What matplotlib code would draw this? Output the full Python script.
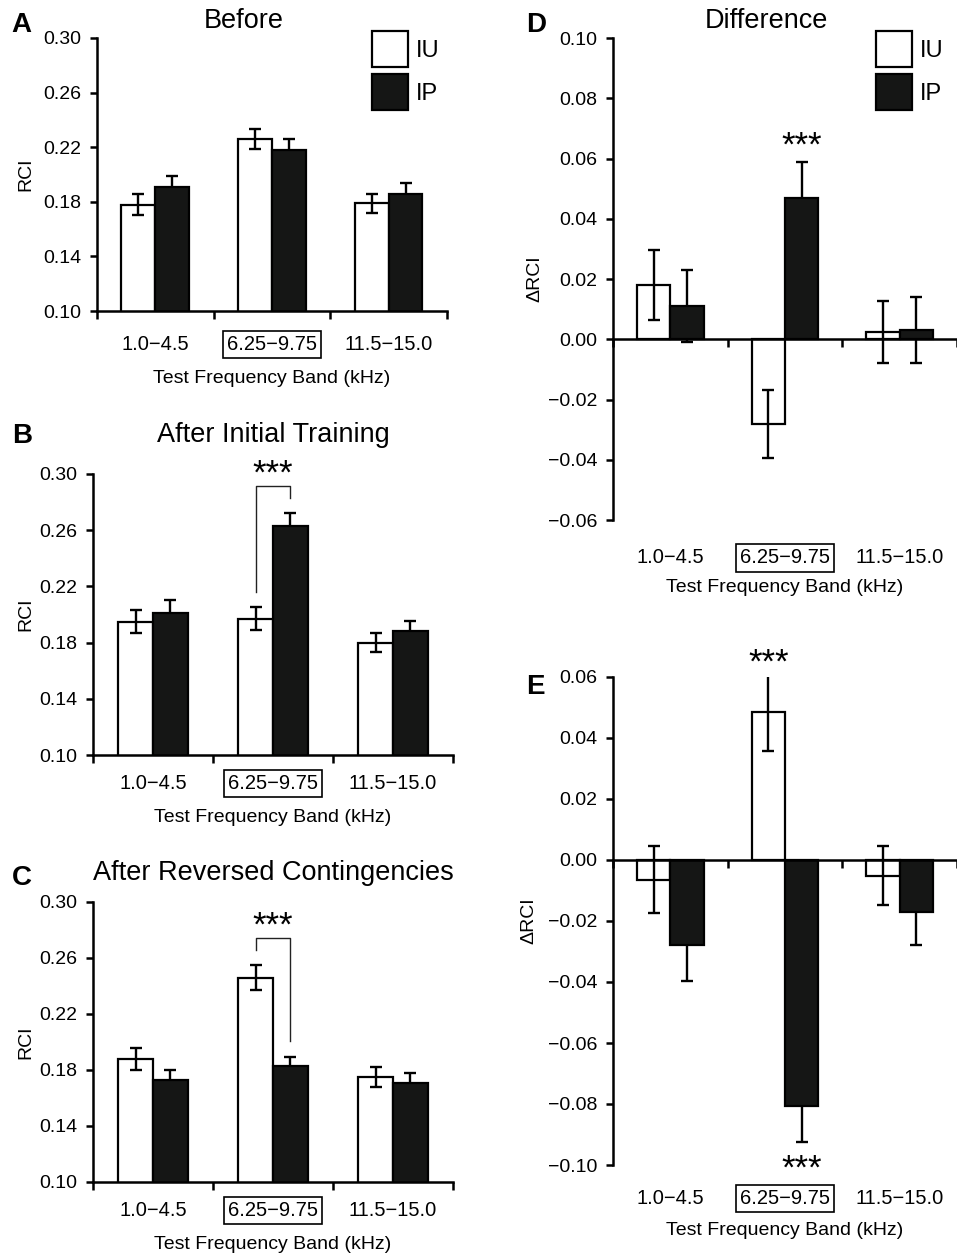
import matplotlib
matplotlib.use("Agg")
import matplotlib.pyplot as plt
from matplotlib.patches import Patch
from matplotlib.ticker import FuncFormatter
import numpy as np

plt.rcParams["font.family"] = ["Liberation Sans", "DejaVu Sans"]

# values (RCI, mean +/- sem)
bands = ["1.0\u22124.5", "6.25\u22129.75", "11.5\u221215.0"]

before_iu = [0.178, 0.226, 0.179]
before_iu_err = [0.008, 0.007, 0.007]
before_ip = [0.191, 0.218, 0.186]
before_ip_err = [0.008, 0.008, 0.0075]

initial_iu = [0.195, 0.197, 0.180]
initial_iu_err = [0.008, 0.008, 0.007]
initial_ip = [0.201, 0.263, 0.188]
initial_ip_err = [0.009, 0.009, 0.0075]

reversed_iu = [0.188, 0.246, 0.175]
reversed_iu_err = [0.008, 0.009, 0.007]
reversed_ip = [0.173, 0.183, 0.171]
reversed_ip_err = [0.007, 0.0065, 0.007]

diff_iu = [0.018, -0.028, 0.0025]
diff_iu_err = [0.0115, 0.0113, 0.0103]
diff_ip = [0.011, 0.047, 0.003]
diff_ip_err = [0.012, 0.012, 0.011]

revdiff_iu = [-0.0065, 0.0484, -0.0052]
revdiff_iu_err = [0.011, 0.0125, 0.0097]
revdiff_ip = [-0.028, -0.0806, -0.017]
revdiff_ip_err = [0.0118, 0.0117, 0.0108]

BLACK = "#151615"
W, H = 957, 1255
BW = 0.29
TICK_FS = 14
STAR_FS = 25

fig = plt.figure(figsize=(W / 100, H / 100), dpi=100)


def px_axes(left, right, top, bottom):
    return fig.add_axes([left / W, 1 - bottom / H, (right - left) / W, (bottom - top) / H])


def fmt(v, _):
    s = f"{v:.2f}"
    if s == "-0.00":
        s = "0.00"
    return s.replace("-", "\u2212")


def draw_bars(ax, iu, iu_err, ip, ip_err):
    x = np.arange(len(bands))
    ax.bar(x - BW / 2, iu, BW, color="white", edgecolor="black", linewidth=1.6, zorder=2)
    ax.errorbar(x - BW / 2, iu, yerr=iu_err, fmt="none", ecolor="black", elinewidth=1.7,
                capsize=4.5, capthick=1.7, zorder=3.5)
    # black bars sit on top of their own error bars so only the outer half shows
    ax.bar(x + BW / 2, ip, BW, color=BLACK, edgecolor="black", linewidth=1.6, zorder=3)
    ax.errorbar(x + BW / 2, ip, yerr=ip_err, fmt="none", ecolor="black", elinewidth=1.7,
                capsize=4.5, capthick=1.7, zorder=2.2)
    ax.set_xlim(-0.5, len(bands) - 0.5)


def style(ax, ylim, step, ylabel, label_x):
    ax.set_ylim(*ylim)
    ax.set_yticks(np.arange(ylim[0], ylim[1] + step / 2, step))
    ax.yaxis.set_major_formatter(FuncFormatter(fmt))
    for s in ["top", "right"]:
        ax.spines[s].set_visible(False)
    for s in ["left", "bottom"]:
        ax.spines[s].set_linewidth(1.8)
        ax.spines[s].set_zorder(4)
    ax.tick_params(axis="y", direction="out", length=5, width=1.8, labelsize=TICK_FS, pad=6)
    ax.set_xticks(np.arange(-0.5, len(bands)), minor=True)
    ax.tick_params(axis="x", which="minor", direction="out", length=6, width=1.8)
    ax.set_ylabel(ylabel, fontsize=14)
    ax.yaxis.set_label_coords(label_x, 0.5)


def band_labels(ax, pad, labelpad):
    ax.set_xticks(np.arange(len(bands)))
    ax.set_xticklabels(bands)
    ax.tick_params(axis="x", which="major", length=0, labelsize=14.5, pad=pad)
    ax.get_xticklabels()[1].set_bbox(dict(boxstyle="square,pad=0.2", facecolor="white",
                                          edgecolor="black", linewidth=1.2))
    ax.set_xlabel("Test Frequency Band (kHz)", fontsize=14, labelpad=labelpad)


def stars(ax, x, y):
    ax.annotate("***", xy=(x, y), xytext=(0, -0.45 * STAR_FS), textcoords="offset points",
                ha="center", va="baseline", fontsize=STAR_FS, annotation_clip=False)


def bracket(ax, cat, iu, iu_err, ip, ip_err):
    xl, xr = cat - BW / 2, cat + BW / 2
    yl = iu[cat] + iu_err[cat] + 0.011
    yr = ip[cat] + ip_err[cat] + 0.011
    top = max(yl, yr) + 0.0085
    ax.plot([xl, xl, xr, xr], [yl, top, top, yr], color="#222222", linewidth=1.0,
            clip_on=False)
    stars(ax, cat, top + 0.013)


def legend(x, y):
    handles = [Patch(facecolor="white", edgecolor="black", linewidth=1.6, label="IU"),
               Patch(facecolor=BLACK, edgecolor="black", linewidth=1.6, label="IP")]
    fig.legend(handles=handles, loc="upper left", bbox_to_anchor=(x / W, 1 - y / H),
               frameon=False, fontsize=17, handlelength=1.52, handleheight=1.97,
               labelspacing=0.3, handletextpad=0.35, borderpad=0, borderaxespad=0)


# A: before
axA = px_axes(97, 447, 38, 311)
draw_bars(axA, before_iu, before_iu_err, before_ip, before_ip_err)
style(axA, (0.10, 0.30), 0.04, "RCI", -0.18)
band_labels(axA, 17.5, 11)
axA.set_title("Before", fontsize=19.5, x=0.419, pad=7)
legend(372, 31)

# B: after initial training
axB = px_axes(93, 453, 474, 755)
draw_bars(axB, initial_iu, initial_iu_err, initial_ip, initial_ip_err)
style(axB, (0.10, 0.30), 0.04, "RCI", -0.1625)
band_labels(axB, 14, 11)
bracket(axB, 1, initial_iu, initial_iu_err, initial_ip, initial_ip_err)
axB.set_title("After Initial Training", fontsize=19.5, pad=23)

# C: after reversed contingencies
axC = px_axes(93, 453, 902, 1182)
draw_bars(axC, reversed_iu, reversed_iu_err, reversed_ip, reversed_ip_err)
style(axC, (0.10, 0.30), 0.04, "RCI", -0.1625)
band_labels(axC, 14, 11)
bracket(axC, 1, reversed_iu, reversed_iu_err, reversed_ip, reversed_ip_err)
axC.set_title("After Reversed Contingencies", fontsize=19.5, pad=16)


def zero_axis(ax, pad, labelpad):
    ax.spines["bottom"].set_position(("data", 0))
    ax.set_xticks([])
    sec = ax.secondary_xaxis("bottom")
    sec.spines["bottom"].set_visible(False)
    band_labels(sec, pad, labelpad)


# D: difference (initial - before)
axD = px_axes(613, 957, 38, 520)
draw_bars(axD, diff_iu, diff_iu_err, diff_ip, diff_ip_err)
style(axD, (-0.06, 0.10), 0.02, "\u0394RCI", -0.2035)
zero_axis(axD, 20.5, 8)
axD.set_title("Difference", fontsize=19.5, x=0.445, pad=7)
stars(axD, 1 + BW / 2, diff_ip[1] + diff_ip_err[1] + 0.007)
legend(876, 31)

# E: reversed - initial
axE = px_axes(613, 957, 677, 1165)
draw_bars(axE, revdiff_iu, revdiff_iu_err, revdiff_ip, revdiff_ip_err)
style(axE, (-0.10, 0.06), 0.02, "\u0394RCI", -0.221)
zero_axis(axE, 17.5, 10)
stars(axE, 1 - BW / 2, revdiff_iu[1] + revdiff_iu_err[1] + 0.0055)
stars(axE, 1 + BW / 2, revdiff_ip[1] - revdiff_ip_err[1] - 0.007)

for letter, x, y in [("A", 11, 32), ("B", 12, 443), ("C", 12, 885), ("D", 526, 32), ("E", 526, 694)]:
    fig.text(x / W, 1 - y / H, letter, fontsize=20, fontweight="bold", va="baseline")

fig.savefig("out.png", dpi=100)
